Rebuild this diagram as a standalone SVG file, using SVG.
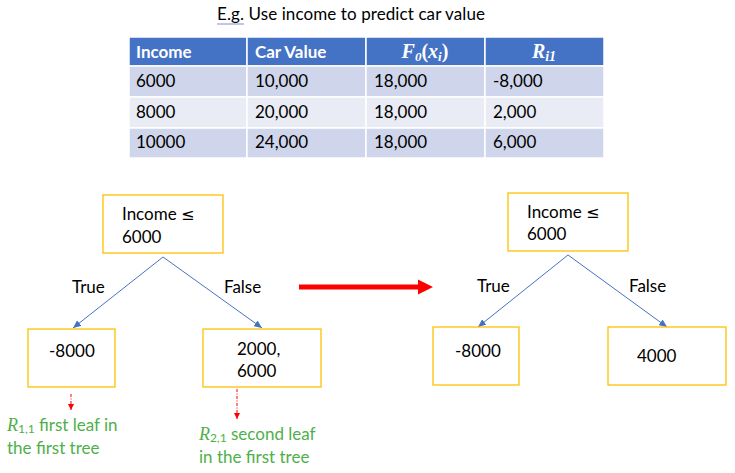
<svg xmlns="http://www.w3.org/2000/svg" width="735" height="473" viewBox="0 0 735 473">
<style>
.t{font-family:Lato,"Open Sans","Liberation Sans",sans-serif;font-size:17px;fill:#000}
.h{font-family:Lato,"Open Sans","Liberation Sans",sans-serif;font-size:17px;font-weight:bold;fill:#fff}
.mh{font-family:"Liberation Serif","DejaVu Serif",serif;font-size:20px;font-weight:bold;font-style:italic;fill:#fff}
.box{fill:#fff;stroke:#FFC000;stroke-width:1.3}
.edge{stroke:#4472C4;stroke-width:1;fill:none;marker-end:url(#bh)}
.red{stroke:#FF0000;stroke-width:1;fill:none;stroke-dasharray:3 1.5 1 1.5;marker-end:url(#rh)}
.g{font-family:Lato,"Open Sans","Liberation Sans",sans-serif;font-size:17px;fill:#4EB04A}
.gm{font-family:"Liberation Serif","DejaVu Serif",serif;font-style:italic;font-size:18px;fill:#4EB04A}
.le{font-family:"DejaVu Sans",sans-serif;font-size:16px}
.cell{stroke:#fff;stroke-width:1.5}
</style>
<defs>
<marker id="bh" markerUnits="userSpaceOnUse" markerWidth="9" markerHeight="7" refX="8" refY="3.5" orient="auto"><path d="M0,0 L8,3.5 L0,7 z" fill="#4472C4"/></marker>
<marker id="rh" markerUnits="userSpaceOnUse" markerWidth="7" markerHeight="7" refX="6" refY="3" orient="auto"><path d="M0,0 L6,3 L0,6 z" fill="#FF0000"/></marker>
</defs>

<g id="title">
<text class="t" x="217" y="20" textLength="268">E.g. Use income to predict car value</text>
<line x1="217" y1="24" x2="244" y2="24" stroke="#7F8FC8" stroke-width="1"/>
</g>

<g id="table">
<rect class="cell" x="129" y="37" width="118" height="29" fill="#4472C4"/>
<rect class="cell" x="247" y="37" width="119" height="29" fill="#4472C4"/>
<rect class="cell" x="366" y="37" width="119" height="29" fill="#4472C4"/>
<rect class="cell" x="485" y="37" width="119" height="29" fill="#4472C4"/>
<rect class="cell" x="129" y="66" width="118" height="31" fill="#CFD5EA"/>
<rect class="cell" x="247" y="66" width="119" height="31" fill="#CFD5EA"/>
<rect class="cell" x="366" y="66" width="119" height="31" fill="#CFD5EA"/>
<rect class="cell" x="485" y="66" width="119" height="31" fill="#CFD5EA"/>
<rect class="cell" x="129" y="97" width="118" height="31" fill="#E9EBF5"/>
<rect class="cell" x="247" y="97" width="119" height="31" fill="#E9EBF5"/>
<rect class="cell" x="366" y="97" width="119" height="31" fill="#E9EBF5"/>
<rect class="cell" x="485" y="97" width="119" height="31" fill="#E9EBF5"/>
<rect class="cell" x="129" y="128" width="118" height="30" fill="#CFD5EA"/>
<rect class="cell" x="247" y="128" width="119" height="30" fill="#CFD5EA"/>
<rect class="cell" x="366" y="128" width="119" height="30" fill="#CFD5EA"/>
<rect class="cell" x="485" y="128" width="119" height="30" fill="#CFD5EA"/>
<text class="h" x="136" y="58">Income</text>
<text class="h" x="255" y="58">Car Value</text>
<text class="mh" x="425" y="58" text-anchor="middle">F<tspan font-size="13" dy="3">0</tspan><tspan dy="-3" font-style="normal">(</tspan>x<tspan font-size="13" dy="3">i</tspan><tspan dy="-3" font-style="normal">)</tspan></text>
<text class="mh" x="544" y="58" text-anchor="middle">R<tspan font-size="14" dy="3">i1</tspan></text>
<text class="t" x="136" y="87">6000</text>
<text class="t" x="255" y="87">10,000</text>
<text class="t" x="374" y="87">18,000</text>
<text class="t" x="493" y="87">-8,000</text>
<text class="t" x="136" y="118">8000</text>
<text class="t" x="255" y="118">20,000</text>
<text class="t" x="374" y="118">18,000</text>
<text class="t" x="493" y="118">2,000</text>
<text class="t" x="136" y="148">10000</text>
<text class="t" x="255" y="148">24,000</text>
<text class="t" x="374" y="148">18,000</text>
<text class="t" x="493" y="148">6,000</text>
</g>

<g id="connectors">
<line class="edge" x1="163" y1="257" x2="73" y2="328"/>
<line class="edge" x1="163" y1="257" x2="262" y2="328"/>
<line class="edge" x1="568" y1="255" x2="478" y2="327"/>
<line class="edge" x1="568" y1="255" x2="667" y2="327"/>
<line class="red" x1="71" y1="394" x2="71" y2="410"/>
<line class="red" x1="237" y1="389" x2="237" y2="419"/>
<polygon points="299,284.5 418,284.5 418,279.5 433,287 418,294.5 418,289.5 299,289.5" fill="#FF0000"/>
<text class="t" x="72" y="293">True</text>
<text class="t" x="224" y="293">False</text>
<text class="t" x="477" y="292">True</text>
<text class="t" x="629" y="292">False</text>
</g>

<g id="root1">
<rect class="box" x="103" y="195" width="120" height="58"/>
<text class="t" x="122" y="220">Income <tspan class="le">≤</tspan></text>
<text class="t" x="122" y="243">6000</text>
</g>
<g id="leaf1a">
<rect class="box" x="28" y="329" width="87" height="58"/>
<text class="t" x="49" y="357">-8000</text>
</g>
<g id="leaf1b">
<rect class="box" x="203" y="329" width="118" height="58"/>
<text class="t" x="237" y="355">2000,</text>
<text class="t" x="237" y="377">6000</text>
</g>
<g id="root2">
<rect class="box" x="508" y="193" width="120" height="58"/>
<text class="t" x="527" y="218">Income <tspan class="le">≤</tspan></text>
<text class="t" x="527" y="240">6000</text>
</g>
<g id="leaf2a">
<rect class="box" x="433" y="327" width="86" height="58"/>
<text class="t" x="455" y="357">-8000</text>
</g>
<g id="leaf2b">
<rect class="box" x="608" y="327" width="118" height="58"/>
<text class="t" x="637" y="362">4000</text>
</g>

<g id="notes">
<text class="g" x="7" y="431"><tspan class="gm">R</tspan><tspan font-size="12" dy="2">1,1</tspan><tspan dy="-2"> first leaf in</tspan></text>
<text class="g" x="7" y="454">the first tree</text>
<text class="g" x="199" y="440"><tspan class="gm">R</tspan><tspan font-size="12" dy="2">2,1</tspan><tspan dy="-2"> second leaf</tspan></text>
<text class="g" x="199" y="463">in the first tree</text>
</g>
</svg>
